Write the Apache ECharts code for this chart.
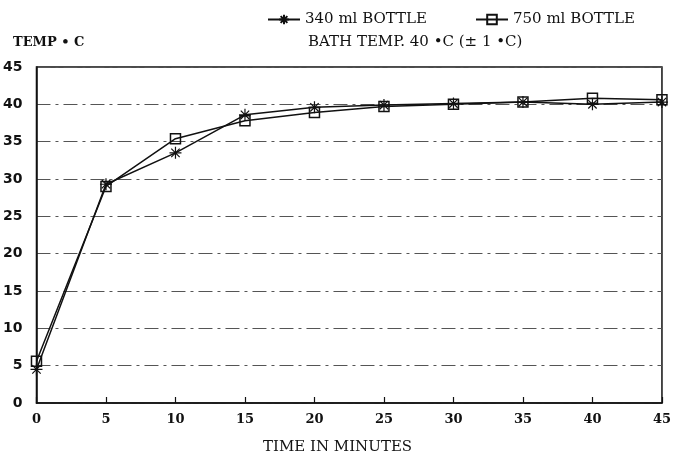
<!DOCTYPE html>
<html>
<head>
<meta charset="utf-8">
<style>
  html, body { margin: 0; padding: 0; background: #fff; }
  #chart { width: 674px; height: 457px; }
</style>
<script src="https://cdn.jsdelivr.net/npm/echarts@6/dist/echarts.min.js"></script>
</head>
<body>
<div id="chart"></div>
<script>
// time in minutes
const minutes = [0, 5, 10, 15, 20, 25, 30, 35, 40, 45]
// temperature, deg C
const bottle340 = [4.5, 29.3, 33.5, 38.6, 39.6, 39.9, 40.1, 40.3, 40.0, 40.3]
const bottle750 = [5.6, 29.0, 35.4, 37.8, 38.9, 39.7, 40.0, 40.3, 40.8, 40.6]
const seriesNames = ['340 ml BOTTLE', '750 ml BOTTLE']

const asterisk = 'path://M0,5L10,5M5,0L5,10M1.5,1.5L8.5,8.5M8.5,1.5L1.5,8.5'
const ink = '#111'
const serif = 'DejaVu Serif'

const chart = echarts.init(document.getElementById('chart'))
chart.setOption({
  animation: false,
  title: [{
    text: 'TEMP \u2022 C',
    left: 13,
    top: 36,
    padding: 0,
    textStyle: { fontFamily: serif, fontSize: 13, fontWeight: 'bold', color: ink }
  }, {
    text: 'BATH TEMP. 40 \u2022C (\u00b1 1 \u2022C)',
    left: 308,
    top: 35,
    padding: 0,
    textStyle: { fontFamily: serif, fontSize: 15, fontWeight: 'normal', color: ink }
  }, {
    text: 'TIME IN MINUTES',
    left: 263,
    top: 440,
    padding: 0,
    textStyle: { fontFamily: serif, fontSize: 15, fontWeight: 'normal', color: ink }
  }],
  legend: [{
    data: [seriesNames[0]],
    left: 267,
    top: 12,
    padding: 0,
    itemWidth: 32,
    itemHeight: 12,
    itemGap: 0,
    textStyle: { fontFamily: serif, fontSize: 15, color: ink }
  }, {
    data: [seriesNames[1]],
    left: 475,
    top: 12,
    padding: 0,
    itemWidth: 32,
    itemHeight: 12,
    itemGap: 0,
    textStyle: { fontFamily: serif, fontSize: 15, color: ink }
  }],
  grid: {
    left: 34,
    right: 9,
    top: 67,
    bottom: 54,
    show: true,
    borderColor: ink,
    borderWidth: 1.5,
    backgroundColor: 'transparent'
  },
  xAxis: {
    type: 'value',
    min: 0,
    max: 45,
    interval: 5,
    axisLine: { lineStyle: { color: ink, width: 1.5 } },
    axisTick: { inside: true, length: 6, lineStyle: { color: ink, width: 1.2 } },
    splitLine: { show: false },
    axisLabel: { margin: 10, fontFamily: serif, fontSize: 13, fontWeight: 'bold', color: ink }
  },
  yAxis: {
    type: 'value',
    min: 0,
    max: 45,
    interval: 5,
    axisLine: { show: true, lineStyle: { color: ink, width: 1.5 } },
    axisTick: { show: false },
    splitLine: { lineStyle: { color: '#555', width: 1, type: [14, 5, 3, 5] } },
    axisLabel: { margin: 14, fontFamily: 'DejaVu Sans', fontSize: 14, fontWeight: 'bold', color: ink }
  },
  series: [{
    name: seriesNames[0],
    type: 'line',
    data: minutes.map((m, i) => [m, bottle340[i]]),
    symbol: asterisk,
    symbolSize: 12,
    color: ink,
    lineStyle: { color: ink, width: 1.5 },
    itemStyle: { color: 'transparent', borderColor: ink, borderWidth: 1.2 },
    z: 3
  }, {
    name: seriesNames[1],
    type: 'line',
    data: minutes.map((m, i) => [m, bottle750[i]]),
    symbol: 'rect',
    symbolSize: 10,
    color: ink,
    lineStyle: { color: ink, width: 1.5 },
    itemStyle: { color: 'transparent', borderColor: ink, borderWidth: 1.5 },
    z: 2
  }]
})
</script>
</body>
</html>
